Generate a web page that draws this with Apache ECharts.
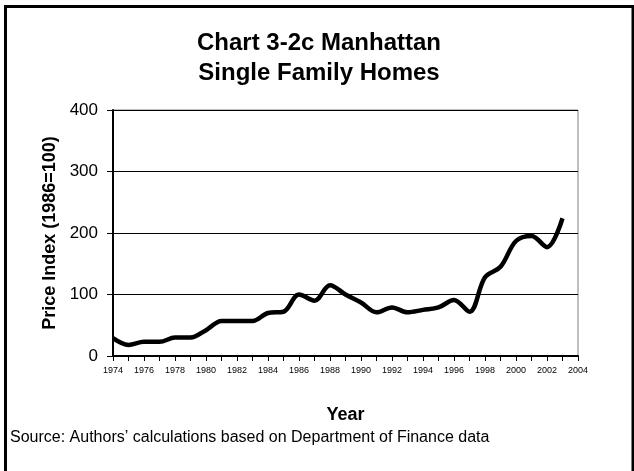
<!DOCTYPE html>
<html>
<head>
<meta charset="utf-8">
<script src="https://cdn.jsdelivr.net/npm/echarts@6/dist/echarts.min.js"></script>
<style>
html,body{margin:0;padding:0;background:#fff;}
#c{width:634px;height:471px;}
</style>
</head>
<body>
<div id="c"></div>
<script>
var years = ['1974','1975','1976','1977','1978','1979','1980','1981','1982','1983','1984','1985','1986','1987','1988','1989','1990','1991','1992','1993','1994','1995','1996','1997','1998','1999','2000','2001','2002','2003','2004'];
var priceIndex = [29, 18, 23, 23, 30, 30, 42, 57, 57, 57, 70, 72, 100, 90, 115, 100, 87, 71, 79, 71, 75, 79, 91, 72, 128, 145, 187, 195, 177, 224];
var yTicks = [0, 100, 200, 300, 400];

var FONT = '"Liberation Sans", Arial, sans-serif';
var chart = echarts.init(document.getElementById('c'), null, {renderer: 'canvas'});
chart.setOption({
  animation: false,
  backgroundColor: '#fff',
  title: {
    text: 'Chart 3-2c Manhattan\nSingle Family Homes',
    left: 314, top: 23, textAlign: 'center',
    textStyle: {fontFamily: FONT, fontWeight: 'bold', fontSize: 24, lineHeight: 30, color: '#000'}
  },
  grid: {left: 113, right: 56, top: 110, bottom: 115, show: true, borderColor: '#808080', borderWidth: 1, backgroundColor: 'transparent'},
  xAxis: {
    type: 'category',
    data: years,
    boundaryGap: false,
    name: 'Year',
    nameLocation: 'middle',
    nameGap: 50,
    nameTextStyle: {fontFamily: FONT, fontWeight: 'bold', fontSize: 18, color: '#000'},
    axisLine: {lineStyle: {color: '#000', width: 2}},
    axisTick: {interval: 0, length: 5, lineStyle: {color: '#000', width: 1}},
    axisLabel: {interval: 1, fontFamily: FONT, fontSize: 9, color: '#000', margin: 10},
    splitLine: {show: false}
  },
  yAxis: {
    type: 'value',
    min: yTicks[0], max: yTicks[yTicks.length - 1], interval: 100,
    name: 'Price Index (1986=100)',
    nameLocation: 'middle',
    nameGap: 47,
    nameRotate: 90,
    nameTextStyle: {fontFamily: FONT, fontWeight: 'bold', fontSize: 18, color: '#000'},
    axisLine: {show: true, lineStyle: {color: '#000', width: 2}},
    axisTick: {show: true, length: 6, lineStyle: {color: '#000', width: 1}},
    axisLabel: {fontFamily: FONT, fontSize: 17, color: '#000', margin: 15},
    splitLine: {show: true, lineStyle: {color: '#000', width: 1}}
  },
  series: [{
    type: 'line',
    data: priceIndex,
    smooth: 0.35,
    symbol: 'none',
    lineStyle: {color: '#000', width: 4.5}
  }],
  graphic: [
    {type: 'rect', shape: {x: 5.5, y: 6.5, width: 627.5, height: 500}, style: {fill: 'none', stroke: '#000', lineWidth: 3}, z: 100},
    {type: 'text', left: 10, top: 430, style: {text: 'Source: Authors\u2019 calculations based on Department of Finance data', font: '16px ' + FONT, fill: '#000'}}
  ]
});
</script>
</body>
</html>
